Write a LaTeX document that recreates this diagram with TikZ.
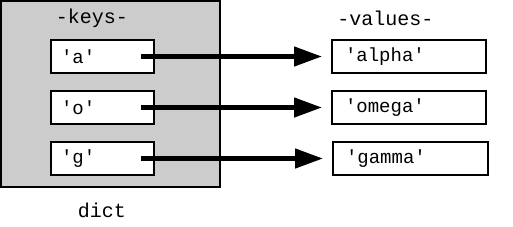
\documentclass[tikz,border=0pt]{standalone}
\usepackage{fontspec}
\setmonofont{Liberation Mono}
\usepackage{tikz}
\usetikzlibrary{arrows.meta,positioning}
\definecolor{dictgray}{HTML}{CCCCCC}
\tikzset{
  dictbox/.style={
    rectangle, draw=black, fill=dictgray, line width=2pt,
    minimum width=219pt, minimum height=186pt, inner sep=0pt
  },
  keybox/.style={
    rectangle, draw=black, fill=white, line width=2pt,
    minimum width=#1, minimum height=33pt,
    inner xsep=10pt, inner ysep=0pt,
    text width=#1-20pt, align=left,
    font=\ttfamily\fontsize{19}{22}\selectfont
  },
  keybox/.default=103pt,
  headlbl/.style={font=\ttfamily\fontsize{20}{24}\selectfont, inner sep=0pt},
  ptr/.style={
    -{Triangle[length=28pt,width=19pt]}, line width=4.5pt, color=black
  },
}

\begin{document}
\begin{tikzpicture}[x=1pt,y=-1pt]
    \useasboundingbox (0,0) rectangle (513,226);
    \node[dictbox] (dict) at (110.5,94) {};
    \node[headlbl] (keyshead) at (92,18) {-keys-};
    \node[headlbl] (valshead) at (385.5,18) {-values-};
    \node[headlbl] (dictname) at (102,210) {dict};
    % keys
    \node[keybox] (ka) at (102.5,56.5) {'a'};
    \node[keybox, below=16pt of ka] (ko) {'o'};
    \node[keybox, below=16pt of ko] (kg) {'g'};
    % values
    \node[keybox=154pt, inner xsep=13pt, text width=128pt] (va) at (409,56.5) {'alpha'};
    \node[keybox=154pt, inner xsep=13pt, text width=128pt, below=16pt of va] (vo) {'omega'};
    \node[keybox=155pt, inner xsep=13pt, text width=129pt, below=16pt of vo, xshift=1.5pt] (vg) {'gamma'};
    % pointers
    \draw[ptr, shorten >=9pt] ([xshift=-14pt]ka.east) -- (va.west);
    \draw[ptr, shorten >=9pt] ([xshift=-14pt]ko.east) -- (vo.west);
    \draw[ptr, shorten >=9pt] ([xshift=-14pt]kg.east) -- (vg.west);
\end{tikzpicture}
\end{document}
